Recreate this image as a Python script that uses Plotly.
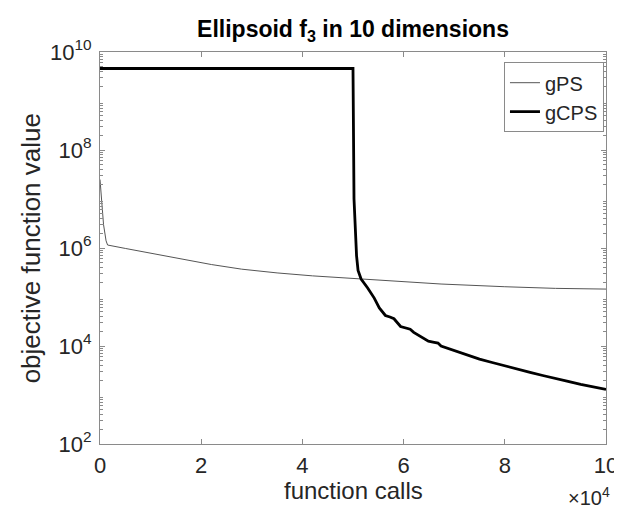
import plotly.graph_objects as go

# ---- data ----
gps_x = [0, 300, 700, 1200, 1500, 5000, 10000, 17000, 22000, 28000, 35000, 42000,
         48000, 58000, 67400, 80000, 90000, 100000]
gps_y = [2.5e7, 8e6, 3e6, 1.4e6, 1.15e6, 9.8e5, 7.8e5, 5.7e5, 4.6e5, 3.7e5, 3.1e5, 2.7e5,
         2.46e5, 2.15e5, 1.84e5, 1.62e5, 1.5e5, 1.45e5]

gcps_x = [0, 50000, 50200, 50500, 50700, 51000, 51600, 52900, 54200, 55200, 56400, 57300,
          58100, 59400, 60300, 61300, 62000, 62900, 64000, 64900, 65800, 66800, 67400,
          70000, 72500, 75000, 77500, 80000, 82500, 85000, 87500, 90000, 92500, 95000,
          97500, 100000]
gcps_y = [4.6e9, 4.6e9, 1e7, 1.5e6, 7e5, 3.5e5, 2.33e5, 1.53e5, 9.5e4, 6.0e4, 4.2e4, 3.9e4,
          3.6e4, 2.5e4, 2.35e4, 2.2e4, 1.9e4, 1.65e4, 1.4e4, 1.25e4, 1.2e4, 1.15e4, 1.0e4,
          8.0e3, 6.5e3, 5.4e3, 4.6e3, 3.9e3, 3.4e3, 2.9e3, 2.5e3, 2.15e3, 1.9e3, 1.65e3,
          1.45e3, 1.3e3]

x_tickvals = [0, 20000, 40000, 60000, 80000, 100000]
x_ticktext = ["0", "2", "4", "6", "8", "10"]
y_tickvals = [1e2, 1e4, 1e6, 1e8, 1e10]
y_ticktext = ["10<sup>2</sup>", "10<sup>4</sup>", "10<sup>6</sup>", "10<sup>8</sup>", "10<sup>10</sup>"]
y_minor = [m * 10 ** e for e in range(2, 10) for m in range(2, 10)]

FONT = "Liberation Sans, Arial, Helvetica, sans-serif"
AX = "#8a8a8a"
TXT = "#262626"

fig = go.Figure()
fig.add_trace(go.Scatter(x=gps_x, y=gps_y, mode="lines", name="gPS",
                         line=dict(color="#555555", width=1)))
fig.add_trace(go.Scatter(x=gcps_x, y=gcps_y, mode="lines", name="gCPS",
                         line=dict(color="#000000", width=2.8)))

fig.update_layout(
    width=622, height=509,
    margin=dict(l=92, r=14, t=44, b=73),
    paper_bgcolor="white", plot_bgcolor="white",
    font=dict(family=FONT, color=TXT, size=20),
    showlegend=True,
    legend=dict(x=0.996, y=0.974, xanchor="right", yanchor="top",
                bgcolor="white", bordercolor=AX, borderwidth=1,
                font=dict(size=20, color=TXT),
                tracegroupgap=0, itemwidth=30),
    title=dict(text="<b>Ellipsoid f<sub>3</sub> in 10 dimensions</b>",
               x=0.5, xref="paper", xanchor="center",
               y=1 - 21 / 509, yref="container", yanchor="middle",
               font=dict(size=23, color="#000000")),
)

fig.update_xaxes(
    range=[0, 100000], tickvals=x_tickvals, ticktext=x_ticktext,
    ticks="inside", ticklen=5, tickcolor=AX, tickwidth=1,
    showline=True, linecolor=AX, linewidth=1, mirror="allticks",
    showgrid=False, zeroline=False, ticklabelstandoff=2,
    tickfont=dict(size=22, color=TXT),
)
fig.update_yaxes(
    type="log", range=[2, 10], tickvals=y_tickvals, ticktext=y_ticktext,
    ticks="inside", ticklen=5, tickcolor=AX, tickwidth=1,
    showline=True, linecolor=AX, linewidth=1, mirror="allticks",
    showgrid=False, zeroline=False, ticklabelstandoff=3,
    tickfont=dict(size=22, color=TXT),
    minor=dict(tickvals=y_minor, ticks="inside", ticklen=3, tickcolor=AX, showgrid=False),
)

# axis titles and exponent marker
fig.add_annotation(text="function calls", xref="paper", yref="paper", x=0.5,
                   y=-(482 - 436) / 392, xanchor="center", yanchor="middle", showarrow=False,
                   font=dict(size=24, color=TXT))
fig.add_annotation(text="objective function value", xref="paper", yref="paper",
                   x=(22 - 92) / 516, y=0.5, xanchor="center", yanchor="middle", textangle=-90,
                   showarrow=False, font=dict(size=26, color=TXT))
fig.add_annotation(text="\u00d710<sup>4</sup>", xref="paper", yref="paper",
                   x=(614 - 92) / 516, y=-(489 - 436) / 392,
                   xanchor="right", yanchor="middle", showarrow=False,
                   font=dict(size=20, color=TXT))

fig.write_html("out.html")
